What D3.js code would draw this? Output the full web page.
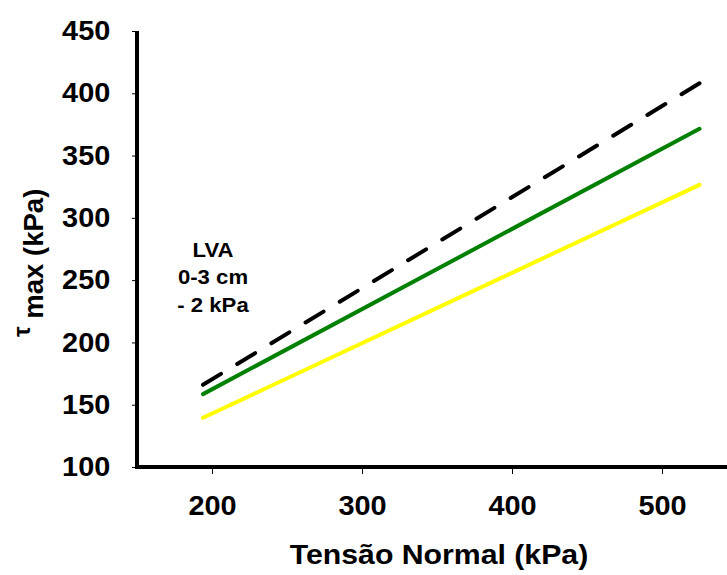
<!DOCTYPE html>
<html><head><meta charset="utf-8">
<script src="https://cdn.jsdelivr.net/npm/d3@7"></script>
<style>
html,body{margin:0;padding:0;background:#fff;}
svg{display:block;font-family:"Liberation Sans",Arial,sans-serif;font-weight:bold;}
</style></head>
<body>
<svg id="chart" width="727" height="575"></svg>
<script>
// Data
const normalStress = [194, 525];            // kPa (x endpoints of fitted lines)
const seriesBlack  = [166, 408];            // dashed black
const seriesGreen  = [158.5, 371.5];        // green
const seriesYellow = [139.5, 326.5];        // yellow
const xTicks = [200, 300, 400, 500];
const yTicks = [100, 150, 200, 250, 300, 350, 400, 450];
const annotation = ["LVA", "0-3 cm", "- 2 kPa"];

const svg = d3.select("#chart");
const x = d3.scaleLinear().domain([150, 550]).range([137, 737]);
const y = d3.scaleLinear().domain([100, 450]).range([467, 31]);

// axes
const yAxis = d3.axisLeft(y).tickValues(yTicks).tickSize(5).tickPadding(20).tickFormat(d3.format("d"));
const gy = svg.append("g").attr("transform", "translate(137,0)").call(yAxis);
gy.select(".domain").remove();
gy.selectAll(".tick line").attr("stroke", "#000").attr("stroke-width", 1);
gy.selectAll(".tick text").attr("font-size", 27).attr("fill", "#000")
  .attr("font-family", "Liberation Sans, Arial, sans-serif").attr("font-weight", "bold")
  .attr("transform", "scale(1.07,1)");

const xAxis = d3.axisBottom(x).tickValues(xTicks).tickSize(5).tickPadding(22).tickFormat(d3.format("d"));
const gx = svg.append("g").attr("transform", "translate(0,469)").call(xAxis);
gx.select(".domain").remove();
gx.selectAll(".tick line").attr("stroke", "#000").attr("stroke-width", 1);
gx.selectAll(".tick text").attr("font-size", 27).attr("fill", "#000")
  .attr("font-family", "Liberation Sans, Arial, sans-serif").attr("font-weight", "bold")
  .attr("transform", "scale(1.07,1)");

// axis lines
svg.append("line").attr("x1", 137).attr("x2", 137).attr("y1", y(450)).attr("y2", 469)
  .attr("stroke", "#000").attr("stroke-width", 4);
svg.append("line").attr("x1", 135).attr("x2", 727).attr("y1", 467).attr("y2", 467)
  .attr("stroke", "#000").attr("stroke-width", 4);

// lines
const line = d3.line().x(d => x(d[0])).y(d => y(d[1]));
function draw(vals, color, dashed) {
  const p = svg.append("path")
    .datum(normalStress.map((n, i) => [n, vals[i]]))
    .attr("d", line).attr("fill", "none").attr("stroke", color)
    .attr("stroke-width", 4).attr("stroke-linecap", "round");
  if (dashed) {
    const L = p.node().getTotalLength();
    const dash = 21;
    const n = Math.round((L - dash) / 39);
    const gap = (L - dash) / n - dash;
    p.attr("stroke-dasharray", dash + "," + gap);
  }
}
draw(seriesYellow, "#FFFF00");
draw(seriesGreen, "#008000");
draw(seriesBlack, "#000000", true);

// annotation
const ann = svg.append("text").attr("text-anchor", "middle").attr("font-size", 20.5)
  .attr("transform", "translate(213,0) scale(1.08,1)");
annotation.forEach((t, i) => ann.append("tspan").attr("x", 0).attr("y", 257 + i * 27.5).text(t));

// x title
svg.append("text").attr("text-anchor", "middle").attr("font-size", 28)
  .attr("transform", "translate(439,564) scale(1.08,1)").text("Tensão Normal (kPa)");

// y title
const yt = svg.append("text").attr("font-size", 27.5)
  .attr("transform", "translate(43,337) rotate(-90)");
yt.append("tspan").attr("font-size", 24).attr("dy", -13).text("τ");
yt.append("tspan").attr("dy", 13).text(" max (kPa)");
</script>
</body></html>
